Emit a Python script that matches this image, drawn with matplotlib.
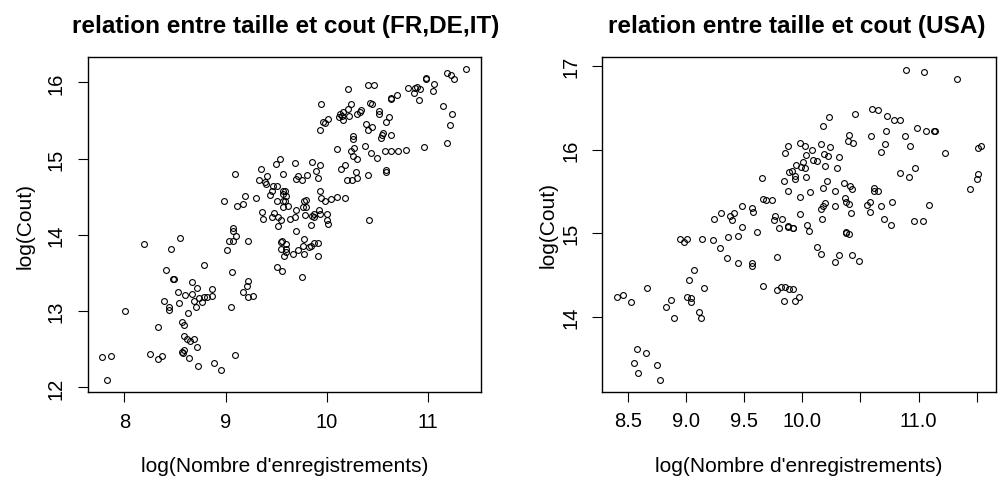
import matplotlib
matplotlib.use("Agg")
import matplotlib.pyplot as plt

plt.rcParams['font.family'] = ['Liberation Sans', 'DejaVu Sans']

# ---- Left panel data (FR, DE, IT) ----
eu_x = [9.54, 9.50, 9.09, 9.35, 9.41, 9.33, 9.39, 9.40, 9.57, 9.47, 9.51, 9.46, 9.44, 9.57, 9.51, 9.57,
        8.99, 9.19, 9.17, 9.11, 9.30, 9.36, 9.37, 9.48, 9.46, 9.52, 9.55, 9.52, 9.07,
        8.19, 8.55, 8.46, 9.07, 9.03, 9.07, 9.10, 9.01, 9.22, 9.55, 9.55, 9.58, 9.51, 9.56,
        8.79, 8.41, 8.48, 8.49, 9.06, 8.67, 8.72, 8.60, 8.53, 8.67, 8.69, 8.74, 8.79, 8.82,
        8.87, 8.87, 8.77, 8.71, 9.22, 9.21, 9.17, 9.22, 9.27, 8.39, 8.44, 8.44, 8.54, 8.63,
        8.01, 9.05, 8.57, 8.59, 8.33, 8.59, 8.62, 8.65, 8.69, 8.72, 8.59, 8.57, 8.58, 8.64,
        8.73, 8.89, 8.96, 9.09, 8.25, 8.33, 8.37, 7.78, 7.87, 7.83,
        9.70, 9.84, 10.01, 9.56, 9.60, 9.60, 9.60, 9.67, 9.72, 9.77, 9.78, 9.83, 9.87, 9.91,
        9.78, 9.91, 9.84, 9.76,
        11.38, 11.19, 11.23, 11.26, 10.98, 10.98, 11.06, 11.05, 10.80, 10.87, 10.89, 10.92,
        10.86, 10.91, 10.41, 10.47, 10.21, 10.64, 10.64, 10.69, 10.43, 10.45, 10.24, 10.21,
        10.16, 10.13, 10.15, 10.22, 10.16, 10.12, 10.30, 10.34, 10.33, 9.94, 10.52, 10.52,
        10.62, 10.59, 11.15, 11.24, 11.22, 11.19, 10.96, 10.01, 9.98, 9.96, 9.93, 10.39,
        10.45, 10.41, 10.56, 10.55, 10.54, 10.64, 10.26, 10.26, 10.27, 10.24, 10.10, 10.38,
        10.44, 10.50, 10.58, 10.64, 10.70, 10.78, 10.26, 10.30, 10.18, 10.14, 10.29, 10.30,
        10.25, 10.20, 10.41, 10.59, 10.59, 9.69, 9.85, 9.93, 9.89, 9.91, 9.81, 9.76, 9.72,
        9.70, 9.93, 9.94, 9.98, 10.04, 10.10, 10.18, 9.80, 9.78, 9.80, 9.77, 9.59, 9.57,
        9.60, 9.59, 9.62, 9.57, 9.70, 9.64, 9.69, 9.79, 9.85, 9.87, 9.92, 9.87, 9.93, 10.00,
        10.00, 10.42]
eu_y = [14.99, 14.93, 14.80, 14.87, 14.77, 14.72, 14.69, 14.67, 14.80, 14.64, 14.64, 14.57, 14.52, 14.58, 14.45, 14.45,
        14.45, 14.51, 14.40, 14.38, 14.48, 14.30, 14.21, 14.29, 14.23, 14.24, 14.20, 14.12, 14.09,
        13.88, 13.96, 13.82, 14.05, 13.92, 13.92, 13.98, 13.80, 13.92, 13.91, 13.82, 13.72, 13.58, 13.53,
        13.61, 13.54, 13.42, 13.42, 13.52, 13.38, 13.30, 13.21, 13.25, 13.22, 13.14, 13.17, 13.18, 13.18,
        13.29, 13.20, 13.12, 13.05, 13.40, 13.33, 13.25, 13.19, 13.20, 13.14, 13.06, 13.02, 13.11, 12.98,
        13.00, 13.06, 12.86, 12.82, 12.79, 12.67, 12.63, 12.61, 12.63, 12.53, 12.49, 12.47, 12.45, 12.39,
        12.28, 12.32, 12.23, 12.43, 12.44, 12.37, 12.41, 12.40, 12.41, 12.10,
        14.05, 14.13, 14.14, 13.92, 13.88, 13.82, 13.77, 13.75, 13.80, 13.85, 13.95, 13.84, 13.89, 13.89,
        13.75, 13.72, 13.85, 13.45,
        16.17, 16.12, 16.09, 16.04, 16.06, 16.04, 15.98, 15.89, 15.92, 15.92, 15.94, 15.91,
        15.86, 15.77, 15.96, 15.97, 15.91, 15.80, 15.78, 15.83, 15.73, 15.72, 15.72, 15.65,
        15.61, 15.58, 15.56, 15.56, 15.50, 15.54, 15.58, 15.64, 15.61, 15.72, 15.63, 15.58,
        15.55, 15.48, 15.69, 15.59, 15.44, 15.20, 15.15, 15.52, 15.47, 15.48, 15.37, 15.46,
        15.42, 15.37, 15.34, 15.31, 15.27, 15.31, 15.30, 15.26, 15.14, 15.10, 15.13, 15.16,
        15.07, 15.01, 15.10, 15.10, 15.10, 15.11, 15.03, 14.99, 14.92, 14.87, 14.82, 14.75,
        14.72, 14.72, 14.78, 14.85, 14.82, 14.94, 14.96, 14.91, 14.84, 14.75, 14.79, 14.72, 14.77,
        14.73, 14.58, 14.49, 14.45, 14.47, 14.50, 14.49, 14.46, 14.44, 14.37, 14.36, 14.58, 14.54,
        14.51, 14.45, 14.38, 14.36, 14.32, 14.21, 14.24, 14.26, 14.25, 14.28, 14.32, 14.23, 14.27, 14.28,
        14.19, 14.20]

# ---- Right panel data (USA) ----
us_x = [9.88, 9.85, 9.65, 9.84, 9.89, 9.88, 9.66, 9.69, 9.74, 9.48, 9.57, 9.58, 9.41, 9.38, 9.40, 9.30,
        9.24, 9.77, 9.76, 9.83, 9.48, 9.61, 9.80, 9.88, 8.95, 8.98, 9.01, 9.14, 9.23, 9.36,
        9.45, 9.29, 9.35, 9.45, 9.57, 9.57, 9.78, 9.07, 9.03, 8.67, 9.16, 8.41, 8.46, 8.53,
        8.87, 8.83, 9.01, 9.04, 9.04, 8.90, 9.11, 9.13, 9.66, 9.78, 9.82, 9.85, 9.84, 9.89,
        8.58, 8.66, 8.55, 8.59, 8.75, 8.78, 9.88, 9.92, 9.92, 10.04, 10.06, 10.17, 10.38, 10.40,
        10.38, 10.13, 10.16, 10.32, 10.28, 10.43, 10.49, 10.70, 10.76, 10.96, 11.04, 9.92,
        9.97, 9.94, 10.89, 11.05, 11.33, 10.60, 10.65, 10.73, 10.79, 10.84, 10.45, 10.23,
        10.18, 10.40, 10.39, 10.44, 10.59, 10.72, 10.88, 10.93, 10.99, 11.06, 11.13, 11.14,
        10.71, 10.68, 11.23, 11.51, 11.54, 9.98, 10.02, 10.08, 10.03, 10.16, 10.24, 10.19,
        10.22, 10.32, 10.09, 10.13, 10.01, 9.95, 9.99, 10.02, 9.91, 9.94, 9.94, 10.20, 10.30,
        10.03, 10.21, 10.36, 10.41, 10.43, 10.84, 10.92, 10.97, 10.18, 10.28, 10.07, 9.98,
        10.62, 10.62, 10.65, 11.44, 11.51, 11.50, 10.37, 10.38, 10.40, 10.20, 10.18, 10.16,
        10.28, 10.58, 10.56, 10.58, 10.68, 10.77, 11.09, 9.98, 10.42]
us_y = [16.04, 15.96, 15.66, 15.62, 15.73, 15.51, 15.41, 15.40, 15.40, 15.33, 15.30, 15.25, 15.24, 15.21, 15.16, 15.24,
        15.17, 15.21, 15.16, 15.17, 15.07, 15.01, 15.06, 15.07, 14.93, 14.89, 14.93, 14.93, 14.92, 14.96,
        14.97, 14.82, 14.70, 14.64, 14.64, 14.61, 14.72, 14.56, 14.44, 14.34, 14.34, 14.24, 14.26, 14.17,
        14.20, 14.12, 14.23, 14.22, 14.18, 13.98, 14.06, 13.98, 14.37, 14.32, 14.35, 14.35, 14.19, 14.33,
        13.61, 13.57, 13.44, 13.33, 13.42, 13.24, 15.09, 15.06, 15.06, 15.10, 15.03, 15.17, 15.01, 14.99,
        15.00, 14.83, 14.75, 14.74, 14.65, 14.74, 14.67, 15.17, 15.10, 15.15, 15.15, 14.33,
        14.24, 14.19, 16.96, 16.93, 16.85, 16.49, 16.48, 16.40, 16.36, 16.36, 16.43, 16.39,
        16.29, 16.18, 16.11, 16.08, 16.16, 16.22, 16.17, 16.04, 16.26, 16.22, 16.23, 16.23,
        16.07, 15.97, 15.96, 16.02, 16.04, 16.08, 16.05, 16.00, 15.94, 16.07, 16.03, 15.95,
        15.93, 15.91, 15.88, 15.86, 15.85, 15.82, 15.79, 15.78, 15.74, 15.69, 15.65, 15.80, 15.78,
        15.67, 15.62, 15.60, 15.57, 15.53, 15.72, 15.67, 15.78, 15.54, 15.50, 15.49, 15.43,
        15.54, 15.51, 15.51, 15.53, 15.71, 15.65, 15.42, 15.38, 15.35, 15.36, 15.33, 15.29,
        15.33, 15.38, 15.34, 15.26, 15.33, 15.38, 15.34, 15.23, 15.24]

eu_xticks = [8, 9, 10, 11]
eu_yticks = [12, 13, 14, 15, 16]
us_xticks = [8.5, 9.0, 9.5, 10.0, 10.5, 11.0, 11.5]
us_xticklabels = ["8.5", "9.0", "9.5", "10.0", "", "11.0", ""]
us_yticks = [14, 15, 16, 17]

titles = ["relation entre taille et cout (FR,DE,IT)", "relation entre taille et cout (USA)"]
xlabel = "log(Nombre d'enregistrements)"
ylabel = "log(Cout)"

fig = plt.figure(figsize=(10, 4.81), dpi=100)
W, H = 1000, 481

def px_axes(x0, y0, x1, y1):
    return fig.add_axes([x0 / W, 1 - y1 / H, (x1 - x0) / W, (y1 - y0) / H])

ax1 = px_axes(88, 58.3, 481, 393.3)
ax2 = px_axes(602.3, 58.3, 995.7, 392.7)

TICK_FS = 14.5
LAB_FS = 15
TITLE_FS = 17.5

for ax, xs, ys in [(ax1, eu_x, eu_y), (ax2, us_x, us_y)]:
    ax.plot(xs, ys, linestyle='none', marker='o', ms=4.2, mfc='none', mec='black', mew=0.8)
    for s in ax.spines.values():
        s.set_linewidth(1.0)
        s.set_color('black')
    ax.tick_params(direction='out', length=7, width=0.8, labelsize=TICK_FS, colors='black')
    ax.tick_params(axis='x', pad=7)
    ax.tick_params(axis='y', pad=9)

ax1.set_xlim(7.641, 11.525)
ax1.set_ylim(11.937, 16.328)
ax1.set_xticks(eu_xticks)
ax1.set_xticklabels([str(v) for v in eu_xticks])
ax1.set_yticks(eu_yticks)
ax1.set_yticklabels([str(v) for v in eu_yticks], rotation=90, va='center')

ax2.set_xlim(8.2816, 11.663)
ax2.set_ylim(13.101, 17.108)
ax2.set_xticks(us_xticks)
ax2.set_xticklabels(us_xticklabels)
ax2.set_yticks(us_yticks)
ax2.set_yticklabels([str(v) for v in us_yticks], rotation=90, va='center')

# titles and axis labels
fig.text(285.5 / W, 1 - 27 / H, titles[0], ha='center', va='center', fontsize=TITLE_FS, fontweight='bold')
fig.text(797 / W, 1 - 27 / H, titles[1], ha='center', va='center', fontsize=TITLE_FS, fontweight='bold')
fig.text(284.5 / W, 1 - 466 / H, xlabel, ha='center', va='center', fontsize=LAB_FS)
fig.text(799 / W, 1 - 466 / H, xlabel, ha='center', va='center', fontsize=LAB_FS)
fig.text(25 / W, 1 - 225.8 / H, ylabel, ha='center', va='center', fontsize=LAB_FS, rotation=90)
fig.text(548 / W, 1 - 225.5 / H, ylabel, ha='center', va='center', fontsize=LAB_FS, rotation=90)

fig.savefig("out.png", dpi=100)
